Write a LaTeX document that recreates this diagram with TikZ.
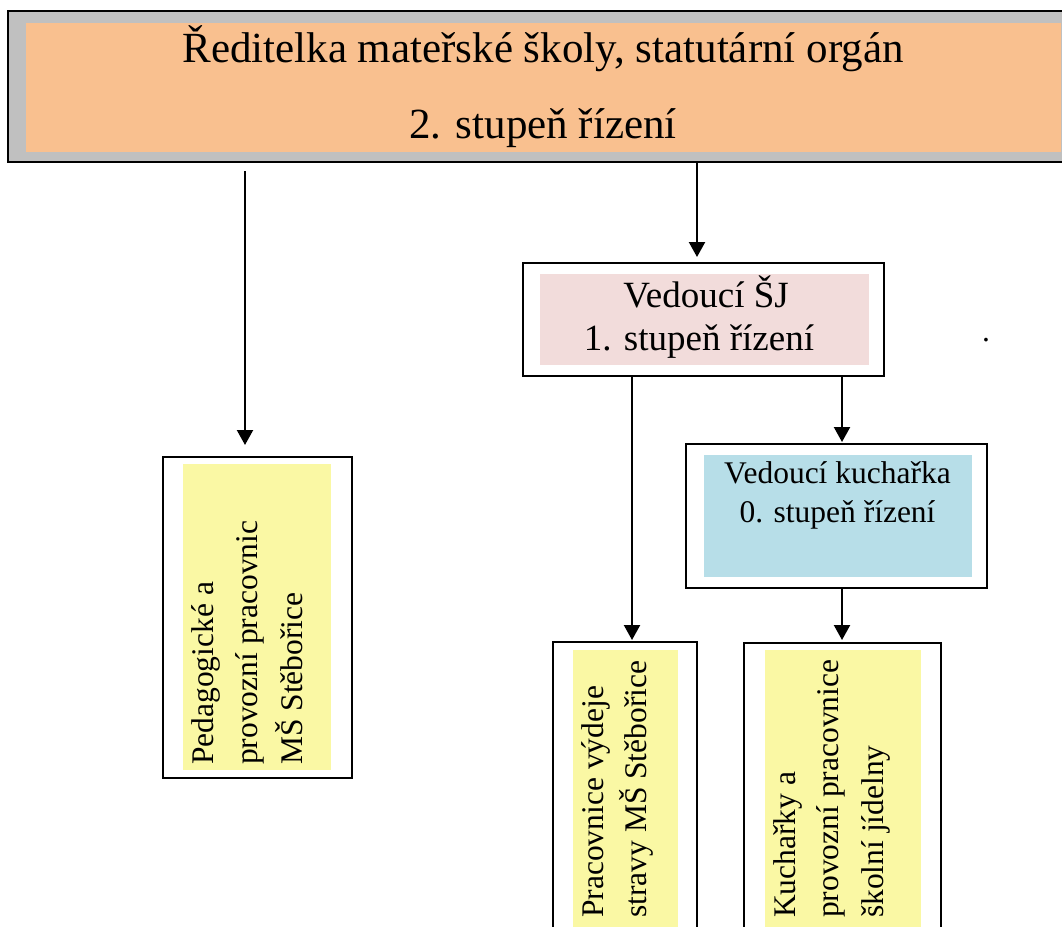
\documentclass[tikz,border=0pt]{standalone}
\usepackage{fontspec}
\setmainfont{Liberation Serif}
\usetikzlibrary{arrows.meta}
\definecolor{orangefill}{RGB}{249,192,143}
\definecolor{grayfill}{RGB}{192,192,192}
\definecolor{pinkfill}{RGB}{242,220,219}
\definecolor{bluefill}{RGB}{183,222,232}
\definecolor{yellowfill}{RGB}{250,248,164}
\newcommand\topfnt{\fontsize{43}{50}\selectfont}
\newcommand\sjfnt{\fontsize{37}{44}\selectfont}
\newcommand\smfnt{\fontsize{31.5}{38}\selectfont}
\begin{document}
\begin{tikzpicture}[x=1pt,y=-1pt,
  outerbox/.style={draw=black, line width=2pt, fill=white, rectangle, inner sep=0pt},
  fillbox/.style={rectangle, inner sep=0pt, draw=none},
  sz/.style 2 args={minimum width=#1pt, minimum height=#2pt},
  arr/.style={line width=2.2pt, -{Triangle[width=16pt,length=15pt]}},
  ctext/.style={anchor=base, inner sep=0pt},
  rtext/.style={rotate=90, anchor=base west, inner sep=0pt, font=\smfnt}]
\useasboundingbox (0,0) rectangle (1062,926);
\fill[white] (0,0) rectangle (1062,926);
\clip (0,0) rectangle (1062,926);

% boxes
\node[outerbox, fill=grayfill, sz={1072}{151}] (top) at (544,86.5) {};
\node[fillbox, fill=orangefill, sz={1035}{129}] (topin) at (543.5,87.5) {};

\node[outerbox, sz={189}{321}] (ped) at (257.5,617.5) {};
\node[fillbox, fill=yellowfill, sz={148}{306}] (pedin) at (257,617) {};

\node[outerbox, sz={361}{113}] (sj) at (703.5,319.5) {};
\node[fillbox, fill=pinkfill, sz={329}{91}] (sjin) at (704.5,319.5) {};

\node[outerbox, sz={301}{144}] (kuch) at (836.5,516) {};
\node[fillbox, fill=bluefill, sz={268}{122}] (kuchin) at (838,516) {};

\node[outerbox, sz={144}{338}] (prac) at (625,811) {};
\node[fillbox, fill=yellowfill, sz={105}{330}] (pracin) at (625.5,815) {};

\node[outerbox, sz={197}{337}] (kuchy) at (842.5,811.5) {};
\node[fillbox, fill=yellowfill, sz={156}{330}] (kuchyin) at (843,815) {};

% texts
\node[ctext, font=\topfnt] (t1) at (543,62) {Ředitelka mateřské školy, statutární orgán};
\node[ctext, font=\topfnt] (t2) at (543,138) {2. stupeň řízení};

\node[ctext, font=\sjfnt] (s1) at (706,307) {Vedoucí ŠJ};
\node[ctext, font=\sjfnt] (s2) at (699,350) {1. stupeň řízení};

\node[ctext, font=\smfnt] (k1) at (837.5,483) {Vedoucí kuchařka};
\node[ctext, font=\smfnt] (k2) at (837.5,522) {0. stupeň řízení};

\node[rtext] (p1) at (213,765) {Pedagogické a};
\node[rtext] (p2) at (257,765) {provozní pracovnic};
\node[rtext] (p3) at (302,765) {MŠ Stěbořice};

\node[rtext] (r1) at (603,918) {Pracovnice výdeje};
\node[rtext] (r2) at (646,918) {stravy MŠ Stěbořice};

\node[rtext] (q1) at (795,918) {Kuchařky a};
\node[rtext] (q2) at (838,918) {provozní pracovnice};
\node[rtext] (q3) at (883,918) {školní jídelny};

\node[ctext, font=\smfnt] (dot) at (986,341) {.};

% connectors
\coordinate (c245) at (245,171);
\coordinate (c697) at (697,0);
\coordinate (c632) at (632,0);
\coordinate (c842) at (842,0);
\draw[arr, shorten >=11pt] (c245) -- (ped.north -| c245);
\draw[arr, shorten >=5pt] (top.south -| c697) -- (sj.north -| c697);
\draw[arr, shorten >=1pt] (sj.south -| c632) -- (prac.north -| c632);
\draw[arr, shorten >=1pt] (sj.south -| c842) -- (kuch.north -| c842);
\draw[arr, shorten >=2pt] (kuch.south -| c842) -- (kuchy.north -| c842);
\end{tikzpicture}
\end{document}
